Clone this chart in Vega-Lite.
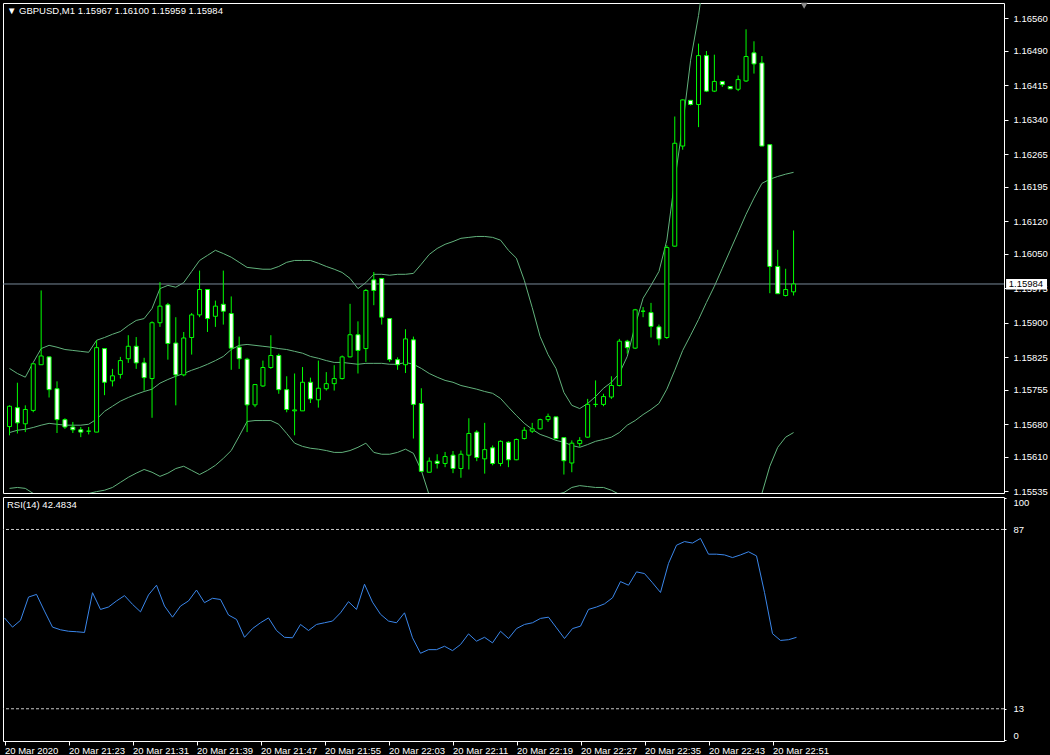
{
  "$schema": "https://vega.github.io/schema/vega-lite/v6.json",
  "background": "#000000",
  "padding": {"left": 2, "top": 2, "right": 4, "bottom": 0},
  "spacing": 4,
  "bounds": "flush",
  "config": {
    "view": {"stroke": "#ffffff", "strokeWidth": 1, "fill": "#000000"},
    "font": "Liberation Sans",
    "axis": {"labelColor": "#ffffff", "tickColor": "#ffffff", "domain": false, "grid": false, "labelFont": "Liberation Sans", "labelFontSize": 9.5, "tickSize": 4, "labelOverlap": false},
    "axisY": {"labelOverlap": false},
    "axisRight": {"labelOverlap": false},
    "axisQuantitative": {"labelOverlap": false}
  },
  "datasets": {
    "bars": [
      {"t": "2020-03-20T21:15:00Z", "o": 1.15675, "h": 1.15721, "l": 1.15656, "c": 1.15719, "bu": 1.15801, "bm": 1.15662, "bl": 1.15541, "r": 50.5},
      {"t": "2020-03-20T21:16:00Z", "o": 1.15716, "h": 1.15770, "l": 1.15660, "c": 1.15683, "bu": 1.15790, "bm": 1.15667, "bl": 1.15543, "r": 46.7},
      {"t": "2020-03-20T21:17:00Z", "o": 1.15681, "h": 1.15721, "l": 1.15663, "c": 1.15712, "bu": 1.15782, "bm": 1.15669, "bl": 1.15541, "r": 49.5},
      {"t": "2020-03-20T21:18:00Z", "o": 1.15710, "h": 1.15812, "l": 1.15706, "c": 1.15811, "bu": 1.15814, "bm": 1.15673, "bl": 1.15530, "r": 59.1},
      {"t": "2020-03-20T21:19:00Z", "o": 1.15809, "h": 1.15970, "l": 1.15809, "c": 1.15828, "bu": 1.15844, "bm": 1.15678, "bl": 1.15526, "r": 60.2},
      {"t": "2020-03-20T21:20:00Z", "o": 1.15826, "h": 1.15827, "l": 1.15738, "c": 1.15755, "bu": 1.15851, "bm": 1.15682, "bl": 1.15524, "r": 53.3},
      {"t": "2020-03-20T21:21:00Z", "o": 1.15757, "h": 1.15773, "l": 1.15661, "c": 1.15690, "bu": 1.15847, "bm": 1.15680, "bl": 1.15521, "r": 46.7},
      {"t": "2020-03-20T21:22:00Z", "o": 1.15690, "h": 1.15693, "l": 1.15670, "c": 1.15674, "bu": 1.15842, "bm": 1.15678, "bl": 1.15521, "r": 45.6},
      {"t": "2020-03-20T21:23:00Z", "o": 1.15674, "h": 1.15685, "l": 1.15661, "c": 1.15668, "bu": 1.15840, "bm": 1.15678, "bl": 1.15524, "r": 45.0},
      {"t": "2020-03-20T21:24:00Z", "o": 1.15668, "h": 1.15674, "l": 1.15652, "c": 1.15663, "bu": 1.15838, "bm": 1.15678, "bl": 1.15526, "r": 44.8},
      {"t": "2020-03-20T21:25:00Z", "o": 1.15665, "h": 1.15674, "l": 1.15658, "c": 1.15665, "bu": 1.15836, "bm": 1.15680, "bl": 1.15530, "r": 44.5},
      {"t": "2020-03-20T21:26:00Z", "o": 1.15663, "h": 1.15862, "l": 1.15663, "c": 1.15846, "bu": 1.15862, "bm": 1.15691, "bl": 1.15534, "r": 60.9},
      {"t": "2020-03-20T21:27:00Z", "o": 1.15844, "h": 1.15845, "l": 1.15743, "c": 1.15771, "bu": 1.15868, "bm": 1.15708, "bl": 1.15537, "r": 54.0},
      {"t": "2020-03-20T21:28:00Z", "o": 1.15774, "h": 1.15800, "l": 1.15762, "c": 1.15785, "bu": 1.15875, "bm": 1.15719, "bl": 1.15543, "r": 55.0},
      {"t": "2020-03-20T21:29:00Z", "o": 1.15788, "h": 1.15826, "l": 1.15779, "c": 1.15818, "bu": 1.15881, "bm": 1.15730, "bl": 1.15554, "r": 57.5},
      {"t": "2020-03-20T21:30:00Z", "o": 1.15822, "h": 1.15873, "l": 1.15813, "c": 1.15849, "bu": 1.15894, "bm": 1.15738, "bl": 1.15565, "r": 59.7},
      {"t": "2020-03-20T21:31:00Z", "o": 1.15849, "h": 1.15869, "l": 1.15800, "c": 1.15813, "bu": 1.15905, "bm": 1.15745, "bl": 1.15574, "r": 56.1},
      {"t": "2020-03-20T21:32:00Z", "o": 1.15813, "h": 1.15824, "l": 1.15753, "c": 1.15781, "bu": 1.15909, "bm": 1.15751, "bl": 1.15582, "r": 53.0},
      {"t": "2020-03-20T21:33:00Z", "o": 1.15779, "h": 1.15903, "l": 1.15694, "c": 1.15900, "bu": 1.15931, "bm": 1.15756, "bl": 1.15576, "r": 60.0},
      {"t": "2020-03-20T21:34:00Z", "o": 1.15900, "h": 1.15988, "l": 1.15891, "c": 1.15936, "bu": 1.15974, "bm": 1.15769, "bl": 1.15567, "r": 64.0},
      {"t": "2020-03-20T21:35:00Z", "o": 1.15939, "h": 1.15943, "l": 1.15820, "c": 1.15855, "bu": 1.15981, "bm": 1.15777, "bl": 1.15574, "r": 55.4},
      {"t": "2020-03-20T21:36:00Z", "o": 1.15856, "h": 1.15912, "l": 1.15721, "c": 1.15787, "bu": 1.15977, "bm": 1.15784, "bl": 1.15584, "r": 50.8},
      {"t": "2020-03-20T21:37:00Z", "o": 1.15787, "h": 1.15880, "l": 1.15784, "c": 1.15867, "bu": 1.15987, "bm": 1.15790, "bl": 1.15589, "r": 55.4},
      {"t": "2020-03-20T21:38:00Z", "o": 1.15868, "h": 1.15921, "l": 1.15831, "c": 1.15917, "bu": 1.16011, "bm": 1.15797, "bl": 1.15580, "r": 57.5},
      {"t": "2020-03-20T21:39:00Z", "o": 1.15917, "h": 1.16013, "l": 1.15912, "c": 1.15972, "bu": 1.16035, "bm": 1.15803, "bl": 1.15571, "r": 62.0},
      {"t": "2020-03-20T21:40:00Z", "o": 1.15972, "h": 1.15972, "l": 1.15880, "c": 1.15909, "bu": 1.16046, "bm": 1.15810, "bl": 1.15580, "r": 56.8},
      {"t": "2020-03-20T21:41:00Z", "o": 1.15914, "h": 1.15948, "l": 1.15891, "c": 1.15936, "bu": 1.16057, "bm": 1.15818, "bl": 1.15591, "r": 58.6},
      {"t": "2020-03-20T21:42:00Z", "o": 1.15940, "h": 1.16013, "l": 1.15896, "c": 1.15925, "bu": 1.16050, "bm": 1.15827, "bl": 1.15606, "r": 58.1},
      {"t": "2020-03-20T21:43:00Z", "o": 1.15920, "h": 1.15957, "l": 1.15798, "c": 1.15845, "bu": 1.16042, "bm": 1.15842, "bl": 1.15623, "r": 51.7},
      {"t": "2020-03-20T21:44:00Z", "o": 1.15847, "h": 1.15870, "l": 1.15800, "c": 1.15822, "bu": 1.16031, "bm": 1.15851, "bl": 1.15654, "r": 49.9},
      {"t": "2020-03-20T21:45:00Z", "o": 1.15821, "h": 1.15824, "l": 1.15663, "c": 1.15722, "bu": 1.16020, "bm": 1.15853, "bl": 1.15686, "r": 42.5},
      {"t": "2020-03-20T21:46:00Z", "o": 1.15722, "h": 1.15766, "l": 1.15717, "c": 1.15766, "bu": 1.16018, "bm": 1.15851, "bl": 1.15688, "r": 46.1},
      {"t": "2020-03-20T21:47:00Z", "o": 1.15763, "h": 1.15818, "l": 1.15761, "c": 1.15803, "bu": 1.16016, "bm": 1.15849, "bl": 1.15688, "r": 48.5},
      {"t": "2020-03-20T21:48:00Z", "o": 1.15803, "h": 1.15873, "l": 1.15800, "c": 1.15829, "bu": 1.16016, "bm": 1.15847, "bl": 1.15688, "r": 50.5},
      {"t": "2020-03-20T21:49:00Z", "o": 1.15829, "h": 1.15833, "l": 1.15746, "c": 1.15755, "bu": 1.16022, "bm": 1.15844, "bl": 1.15680, "r": 45.3},
      {"t": "2020-03-20T21:50:00Z", "o": 1.15755, "h": 1.15784, "l": 1.15706, "c": 1.15712, "bu": 1.16031, "bm": 1.15842, "bl": 1.15660, "r": 42.5},
      {"t": "2020-03-20T21:51:00Z", "o": 1.15709, "h": 1.15790, "l": 1.15656, "c": 1.15711, "bu": 1.16035, "bm": 1.15838, "bl": 1.15639, "r": 42.3},
      {"t": "2020-03-20T21:52:00Z", "o": 1.15709, "h": 1.15804, "l": 1.15709, "c": 1.15771, "bu": 1.16035, "bm": 1.15834, "bl": 1.15632, "r": 47.8},
      {"t": "2020-03-20T21:53:00Z", "o": 1.15771, "h": 1.15781, "l": 1.15726, "c": 1.15735, "bu": 1.16035, "bm": 1.15827, "bl": 1.15628, "r": 45.3},
      {"t": "2020-03-20T21:54:00Z", "o": 1.15733, "h": 1.15818, "l": 1.15716, "c": 1.15758, "bu": 1.16029, "bm": 1.15823, "bl": 1.15626, "r": 47.8},
      {"t": "2020-03-20T21:55:00Z", "o": 1.15757, "h": 1.15793, "l": 1.15753, "c": 1.15768, "bu": 1.16022, "bm": 1.15818, "bl": 1.15623, "r": 48.5},
      {"t": "2020-03-20T21:56:00Z", "o": 1.15768, "h": 1.15808, "l": 1.15753, "c": 1.15779, "bu": 1.16016, "bm": 1.15814, "bl": 1.15619, "r": 49.2},
      {"t": "2020-03-20T21:57:00Z", "o": 1.15779, "h": 1.15829, "l": 1.15777, "c": 1.15826, "bu": 1.16009, "bm": 1.15814, "bl": 1.15619, "r": 52.6},
      {"t": "2020-03-20T21:58:00Z", "o": 1.15826, "h": 1.15941, "l": 1.15825, "c": 1.15874, "bu": 1.15996, "bm": 1.15812, "bl": 1.15623, "r": 57.2},
      {"t": "2020-03-20T21:59:00Z", "o": 1.15874, "h": 1.15903, "l": 1.15790, "c": 1.15840, "bu": 1.15974, "bm": 1.15810, "bl": 1.15630, "r": 54.0},
      {"t": "2020-03-20T22:00:00Z", "o": 1.15844, "h": 1.15973, "l": 1.15815, "c": 1.15970, "bu": 1.15987, "bm": 1.15812, "bl": 1.15639, "r": 64.4},
      {"t": "2020-03-20T22:01:00Z", "o": 1.15993, "h": 1.16010, "l": 1.15938, "c": 1.15970, "bu": 1.16005, "bm": 1.15812, "bl": 1.15619, "r": 57.0},
      {"t": "2020-03-20T22:02:00Z", "o": 1.15996, "h": 1.15996, "l": 1.15896, "c": 1.15912, "bu": 1.16005, "bm": 1.15812, "bl": 1.15615, "r": 52.0},
      {"t": "2020-03-20T22:03:00Z", "o": 1.15909, "h": 1.15910, "l": 1.15815, "c": 1.15820, "bu": 1.16003, "bm": 1.15810, "bl": 1.15615, "r": 49.2},
      {"t": "2020-03-20T22:04:00Z", "o": 1.15820, "h": 1.15825, "l": 1.15798, "c": 1.15809, "bu": 1.16005, "bm": 1.15810, "bl": 1.15619, "r": 48.5},
      {"t": "2020-03-20T22:05:00Z", "o": 1.15809, "h": 1.15886, "l": 1.15791, "c": 1.15865, "bu": 1.16005, "bm": 1.15814, "bl": 1.15626, "r": 52.6},
      {"t": "2020-03-20T22:06:00Z", "o": 1.15863, "h": 1.15870, "l": 1.15649, "c": 1.15723, "bu": 1.16007, "bm": 1.15810, "bl": 1.15617, "r": 42.3},
      {"t": "2020-03-20T22:07:00Z", "o": 1.15725, "h": 1.15758, "l": 1.15576, "c": 1.15578, "bu": 1.16027, "bm": 1.15801, "bl": 1.15580, "r": 35.9},
      {"t": "2020-03-20T22:08:00Z", "o": 1.15576, "h": 1.15608, "l": 1.15576, "c": 1.15600, "bu": 1.16048, "bm": 1.15790, "bl": 1.15526, "r": 37.4},
      {"t": "2020-03-20T22:09:00Z", "o": 1.15600, "h": 1.15615, "l": 1.15584, "c": 1.15595, "bu": 1.16061, "bm": 1.15782, "bl": 1.15493, "r": 37.4},
      {"t": "2020-03-20T22:10:00Z", "o": 1.15595, "h": 1.15620, "l": 1.15587, "c": 1.15610, "bu": 1.16070, "bm": 1.15775, "bl": 1.15472, "r": 38.8},
      {"t": "2020-03-20T22:11:00Z", "o": 1.15613, "h": 1.15622, "l": 1.15574, "c": 1.15584, "bu": 1.16076, "bm": 1.15771, "bl": 1.15454, "r": 37.0},
      {"t": "2020-03-20T22:12:00Z", "o": 1.15584, "h": 1.15623, "l": 1.15564, "c": 1.15615, "bu": 1.16083, "bm": 1.15764, "bl": 1.15439, "r": 39.5},
      {"t": "2020-03-20T22:13:00Z", "o": 1.15613, "h": 1.15693, "l": 1.15582, "c": 1.15660, "bu": 1.16085, "bm": 1.15760, "bl": 1.15428, "r": 43.9},
      {"t": "2020-03-20T22:14:00Z", "o": 1.15663, "h": 1.15667, "l": 1.15600, "c": 1.15608, "bu": 1.16087, "bm": 1.15756, "bl": 1.15424, "r": 40.9},
      {"t": "2020-03-20T22:15:00Z", "o": 1.15605, "h": 1.15683, "l": 1.15573, "c": 1.15625, "bu": 1.16087, "bm": 1.15751, "bl": 1.15422, "r": 42.5},
      {"t": "2020-03-20T22:16:00Z", "o": 1.15629, "h": 1.15634, "l": 1.15591, "c": 1.15595, "bu": 1.16085, "bm": 1.15747, "bl": 1.15428, "r": 40.2},
      {"t": "2020-03-20T22:17:00Z", "o": 1.15595, "h": 1.15645, "l": 1.15589, "c": 1.15643, "bu": 1.16079, "bm": 1.15736, "bl": 1.15439, "r": 45.0},
      {"t": "2020-03-20T22:18:00Z", "o": 1.15641, "h": 1.15643, "l": 1.15587, "c": 1.15603, "bu": 1.16057, "bm": 1.15717, "bl": 1.15454, "r": 42.0},
      {"t": "2020-03-20T22:19:00Z", "o": 1.15603, "h": 1.15649, "l": 1.15602, "c": 1.15647, "bu": 1.16040, "bm": 1.15699, "bl": 1.15472, "r": 46.1},
      {"t": "2020-03-20T22:20:00Z", "o": 1.15649, "h": 1.15674, "l": 1.15647, "c": 1.15667, "bu": 1.15992, "bm": 1.15682, "bl": 1.15489, "r": 47.8},
      {"t": "2020-03-20T22:21:00Z", "o": 1.15665, "h": 1.15683, "l": 1.15661, "c": 1.15670, "bu": 1.15933, "bm": 1.15669, "bl": 1.15504, "r": 48.5},
      {"t": "2020-03-20T22:22:00Z", "o": 1.15670, "h": 1.15692, "l": 1.15669, "c": 1.15690, "bu": 1.15870, "bm": 1.15658, "bl": 1.15515, "r": 50.3},
      {"t": "2020-03-20T22:23:00Z", "o": 1.15690, "h": 1.15703, "l": 1.15685, "c": 1.15697, "bu": 1.15831, "bm": 1.15652, "bl": 1.15524, "r": 50.8},
      {"t": "2020-03-20T22:24:00Z", "o": 1.15696, "h": 1.15696, "l": 1.15647, "c": 1.15649, "bu": 1.15801, "bm": 1.15645, "bl": 1.15528, "r": 46.4},
      {"t": "2020-03-20T22:25:00Z", "o": 1.15651, "h": 1.15652, "l": 1.15571, "c": 1.15601, "bu": 1.15749, "bm": 1.15641, "bl": 1.15532, "r": 42.0},
      {"t": "2020-03-20T22:26:00Z", "o": 1.15596, "h": 1.15645, "l": 1.15576, "c": 1.15639, "bu": 1.15721, "bm": 1.15634, "bl": 1.15543, "r": 46.1},
      {"t": "2020-03-20T22:27:00Z", "o": 1.15638, "h": 1.15652, "l": 1.15631, "c": 1.15645, "bu": 1.15714, "bm": 1.15630, "bl": 1.15547, "r": 47.1},
      {"t": "2020-03-20T22:28:00Z", "o": 1.15652, "h": 1.15735, "l": 1.15651, "c": 1.15723, "bu": 1.15725, "bm": 1.15636, "bl": 1.15545, "r": 54.0},
      {"t": "2020-03-20T22:29:00Z", "o": 1.15723, "h": 1.15775, "l": 1.15717, "c": 1.15723, "bu": 1.15740, "bm": 1.15643, "bl": 1.15543, "r": 55.0},
      {"t": "2020-03-20T22:30:00Z", "o": 1.15723, "h": 1.15746, "l": 1.15719, "c": 1.15740, "bu": 1.15758, "bm": 1.15647, "bl": 1.15543, "r": 56.3},
      {"t": "2020-03-20T22:31:00Z", "o": 1.15739, "h": 1.15784, "l": 1.15735, "c": 1.15764, "bu": 1.15771, "bm": 1.15652, "bl": 1.15537, "r": 58.8},
      {"t": "2020-03-20T22:32:00Z", "o": 1.15764, "h": 1.15865, "l": 1.15762, "c": 1.15860, "bu": 1.15790, "bm": 1.15662, "bl": 1.15528, "r": 65.5},
      {"t": "2020-03-20T22:33:00Z", "o": 1.15860, "h": 1.15863, "l": 1.15833, "c": 1.15846, "bu": 1.15827, "bm": 1.15678, "bl": 1.15515, "r": 64.0},
      {"t": "2020-03-20T22:34:00Z", "o": 1.15845, "h": 1.15930, "l": 1.15843, "c": 1.15928, "bu": 1.15894, "bm": 1.15688, "bl": 1.15493, "r": 69.5},
      {"t": "2020-03-20T22:35:00Z", "o": 1.15925, "h": 1.15934, "l": 1.15912, "c": 1.15925, "bu": 1.15953, "bm": 1.15701, "bl": 1.15472, "r": 68.8},
      {"t": "2020-03-20T22:36:00Z", "o": 1.15922, "h": 1.15943, "l": 1.15868, "c": 1.15892, "bu": 1.15981, "bm": 1.15712, "bl": 1.15450, "r": 65.0},
      {"t": "2020-03-20T22:37:00Z", "o": 1.15891, "h": 1.15896, "l": 1.15851, "c": 1.15865, "bu": 1.16011, "bm": 1.15725, "bl": 1.15417, "r": 61.0},
      {"t": "2020-03-20T22:38:00Z", "o": 1.15868, "h": 1.16068, "l": 1.15865, "c": 1.16063, "bu": 1.16079, "bm": 1.15756, "bl": 1.15433, "r": 73.0},
      {"t": "2020-03-20T22:39:00Z", "o": 1.16066, "h": 1.16347, "l": 1.16065, "c": 1.16289, "bu": 1.16209, "bm": 1.15797, "bl": 1.15385, "r": 80.5},
      {"t": "2020-03-20T22:40:00Z", "o": 1.16283, "h": 1.16384, "l": 1.16275, "c": 1.16383, "bu": 1.16328, "bm": 1.15840, "bl": 1.15352, "r": 82.0},
      {"t": "2020-03-20T22:41:00Z", "o": 1.16382, "h": 1.16382, "l": 1.16371, "c": 1.16373, "bu": 1.16469, "bm": 1.15873, "bl": 1.15277, "r": 81.4},
      {"t": "2020-03-20T22:42:00Z", "o": 1.16373, "h": 1.16505, "l": 1.16324, "c": 1.16479, "bu": 1.16566, "bm": 1.15907, "bl": 1.15248, "r": 83.3},
      {"t": "2020-03-20T22:43:00Z", "o": 1.16479, "h": 1.16489, "l": 1.16400, "c": 1.16402, "bu": 1.16688, "bm": 1.15944, "bl": 1.15200, "r": 76.8},
      {"t": "2020-03-20T22:44:00Z", "o": 1.16402, "h": 1.16481, "l": 1.16400, "c": 1.16423, "bu": 1.16778, "bm": 1.15979, "bl": 1.15180, "r": 76.8},
      {"t": "2020-03-20T22:45:00Z", "o": 1.16423, "h": 1.16423, "l": 1.16411, "c": 1.16416, "bu": 1.16846, "bm": 1.16018, "bl": 1.15190, "r": 76.5},
      {"t": "2020-03-20T22:46:00Z", "o": 1.16412, "h": 1.16412, "l": 1.16407, "c": 1.16407, "bu": 1.16881, "bm": 1.16057, "bl": 1.15233, "r": 75.4},
      {"t": "2020-03-20T22:47:00Z", "o": 1.16406, "h": 1.16436, "l": 1.16402, "c": 1.16427, "bu": 1.16915, "bm": 1.16096, "bl": 1.15277, "r": 76.5},
      {"t": "2020-03-20T22:48:00Z", "o": 1.16424, "h": 1.16536, "l": 1.16422, "c": 1.16477, "bu": 1.16928, "bm": 1.16135, "bl": 1.15342, "r": 77.8},
      {"t": "2020-03-20T22:49:00Z", "o": 1.16485, "h": 1.16510, "l": 1.16440, "c": 1.16461, "bu": 1.16879, "bm": 1.16170, "bl": 1.15461, "r": 76.1},
      {"t": "2020-03-20T22:50:00Z", "o": 1.16463, "h": 1.16478, "l": 1.16283, "c": 1.16283, "bu": 1.16874, "bm": 1.16202, "bl": 1.15530, "r": 61.0},
      {"t": "2020-03-20T22:51:00Z", "o": 1.16286, "h": 1.16286, "l": 1.15964, "c": 1.16022, "bu": 1.16833, "bm": 1.16211, "bl": 1.15589, "r": 44.0},
      {"t": "2020-03-20T22:52:00Z", "o": 1.16022, "h": 1.16058, "l": 1.15963, "c": 1.15963, "bu": 1.16804, "bm": 1.16217, "bl": 1.15630, "r": 41.2},
      {"t": "2020-03-20T22:53:00Z", "o": 1.15959, "h": 1.16017, "l": 1.15957, "c": 1.15972, "bu": 1.16792, "bm": 1.16222, "bl": 1.15652, "r": 41.5},
      {"t": "2020-03-20T22:54:00Z", "o": 1.15967, "h": 1.16100, "l": 1.15959, "c": 1.15984, "bu": 1.16790, "bm": 1.16226, "bl": 1.15662, "r": 42.4834}
    ],
    "last": [{"price": 1.15984}],
    "levels": [{"lv": 87}, {"lv": 13}]
  },
  "vconcat": [
    {
      "width": 1001,
      "height": 490,
      "title": {"text": "▼ GBPUSD,M1  1.15967 1.16100 1.15959 1.15984", "anchor": "start", "frame": "group", "orient": "top", "offset": -13, "dx": 4, "color": "#ffffff", "font": "Liberation Sans", "fontSize": 9.5, "fontWeight": "normal"},
      "layer": [
        {
          "data": {"name": "bars"},
          "mark": {"type": "line", "color": "#62b27c", "strokeWidth": 1, "clip": true},
          "encoding": {
            "x": {"field": "t", "type": "temporal", "scale": {"type": "utc", "domain": [{"year": 2020, "month": 3, "date": 20, "hours": 21, "minutes": 14, "seconds": 48, "milliseconds": 750, "utc": true}, {"year": 2020, "month": 3, "date": 20, "hours": 23, "minutes": 19, "seconds": 56, "milliseconds": 250, "utc": true}]}, "axis": null},
            "y": {"field": "bu", "type": "quantitative", "title": null, "scale": {"domain": [1.15531, 1.16593], "zero": false, "nice": false},
              "axis": {"orient": "right", "values": [1.1656, 1.1649, 1.16415, 1.1634, 1.16265, 1.16195, 1.1612, 1.1605, 1.15975, 1.159, 1.15825, 1.15755, 1.1568, 1.1561, 1.15535], "format": ".5f", "tickSize": 4, "labelPadding": 5, "labelOverlap": false, "labelBound": false, "title": null}}
          }
        },
        {
          "data": {"name": "bars"},
          "mark": {"type": "line", "color": "#62b27c", "strokeWidth": 1, "clip": true},
          "encoding": {
            "x": {"field": "t", "type": "temporal", "axis": null},
            "y": {"field": "bm", "type": "quantitative", "title": null,
              "axis": {"orient": "right", "values": [1.1656, 1.1649, 1.16415, 1.1634, 1.16265, 1.16195, 1.1612, 1.1605, 1.15975, 1.159, 1.15825, 1.15755, 1.1568, 1.1561, 1.15535], "format": ".5f", "tickSize": 4, "labelPadding": 5, "labelOverlap": false, "labelBound": false, "title": null}}
          }
        },
        {
          "data": {"name": "bars"},
          "mark": {"type": "line", "color": "#62b27c", "strokeWidth": 1, "clip": true},
          "encoding": {
            "x": {"field": "t", "type": "temporal", "axis": null},
            "y": {"field": "bl", "type": "quantitative", "title": null,
              "axis": {"orient": "right", "values": [1.1656, 1.1649, 1.16415, 1.1634, 1.16265, 1.16195, 1.1612, 1.1605, 1.15975, 1.159, 1.15825, 1.15755, 1.1568, 1.1561, 1.15535], "format": ".5f", "tickSize": 4, "labelPadding": 5, "labelOverlap": false, "labelBound": false, "title": null}}
          }
        },
        {
          "data": {"name": "last"},
          "mark": {"type": "rule", "color": "#778899", "strokeWidth": 1},
          "encoding": {"y": {"field": "price", "type": "quantitative", "title": null,
              "axis": {"orient": "right", "values": [1.1656, 1.1649, 1.16415, 1.1634, 1.16265, 1.16195, 1.1612, 1.1605, 1.15975, 1.159, 1.15825, 1.15755, 1.1568, 1.1561, 1.15535], "format": ".5f", "tickSize": 4, "labelPadding": 5, "labelOverlap": false, "labelBound": false, "title": null}}}
        },
        {
          "data": {"name": "bars"},
          "mark": {"type": "rule", "color": "#00ff00", "strokeWidth": 1, "clip": true},
          "encoding": {
            "x": {"field": "t", "type": "temporal", "axis": null},
            "y": {"field": "l", "type": "quantitative", "title": null,
              "axis": {"orient": "right", "values": [1.1656, 1.1649, 1.16415, 1.1634, 1.16265, 1.16195, 1.1612, 1.1605, 1.15975, 1.159, 1.15825, 1.15755, 1.1568, 1.1561, 1.15535], "format": ".5f", "tickSize": 4, "labelPadding": 5, "labelOverlap": false, "labelBound": false, "title": null}},
            "y2": {"field": "h"}
          }
        },
        {
          "data": {"name": "bars"},
          "mark": {"type": "bar", "width": 4, "stroke": "#00ff00", "strokeWidth": 1, "clip": true},
          "encoding": {
            "x": {"field": "t", "type": "temporal", "axis": null},
            "y": {"field": "o", "type": "quantitative", "title": null,
              "axis": {"orient": "right", "values": [1.1656, 1.1649, 1.16415, 1.1634, 1.16265, 1.16195, 1.1612, 1.1605, 1.15975, 1.159, 1.15825, 1.15755, 1.1568, 1.1561, 1.15535], "format": ".5f", "tickSize": 4, "labelPadding": 5, "labelOverlap": false, "labelBound": false, "title": null}},
            "y2": {"field": "c"},
            "fill": {"condition": {"test": "datum.c < datum.o", "value": "#ffffff"}, "value": "#000000"}
          }
        },
        {
          "data": {"name": "last"},
          "mark": {"type": "rect", "fill": "#ffffff", "clip": false},
          "encoding": {
            "x": {"datum": {"year": 2020, "month": 3, "date": 20, "hours": 23, "minutes": 20, "seconds": 50, "utc": true}, "type": "temporal", "axis": null},
            "x2": {"datum": {"year": 2020, "month": 3, "date": 20, "hours": 23, "minutes": 26, "utc": true}},
            "y": {"datum": 1.15995, "type": "quantitative", "title": null,
              "axis": {"orient": "right", "values": [1.1656, 1.1649, 1.16415, 1.1634, 1.16265, 1.16195, 1.1612, 1.1605, 1.15975, 1.159, 1.15825, 1.15755, 1.1568, 1.1561, 1.15535], "format": ".5f", "tickSize": 4, "labelPadding": 5, "labelOverlap": false, "labelBound": false, "title": null}},
            "y2": {"datum": 1.15972}
          }
        },
        {
          "data": {"name": "last"},
          "mark": {"type": "text", "color": "#000000", "align": "left", "baseline": "middle", "font": "Liberation Sans", "fontSize": 9.5, "clip": false},
          "encoding": {
            "x": {"datum": {"year": 2020, "month": 3, "date": 20, "hours": 23, "minutes": 21, "seconds": 10, "utc": true}, "type": "temporal", "axis": null},
            "y": {"field": "price", "type": "quantitative", "title": null,
              "axis": {"orient": "right", "values": [1.1656, 1.1649, 1.16415, 1.1634, 1.16265, 1.16195, 1.1612, 1.1605, 1.15975, 1.159, 1.15825, 1.15755, 1.1568, 1.1561, 1.15535], "format": ".5f", "tickSize": 4, "labelPadding": 5, "labelOverlap": false, "labelBound": false, "title": null}},
            "text": {"field": "price", "type": "quantitative", "format": ".5f"}
          }
        },
        {
          "data": {"name": "last"},
          "mark": {"type": "point", "shape": "triangle-down", "filled": true, "fill": "#8c8c8c", "strokeWidth": 0, "size": 45, "opacity": 1, "clip": false},
          "encoding": {
            "x": {"datum": {"year": 2020, "month": 3, "date": 20, "hours": 22, "minutes": 55, "seconds": 20, "utc": true}, "type": "temporal", "axis": null},
            "y": {"datum": 1.16587, "type": "quantitative", "title": null,
              "axis": {"orient": "right", "values": [1.1656, 1.1649, 1.16415, 1.1634, 1.16265, 1.16195, 1.1612, 1.1605, 1.15975, 1.159, 1.15825, 1.15755, 1.1568, 1.1561, 1.15535], "format": ".5f", "tickSize": 4, "labelPadding": 5, "labelOverlap": false, "labelBound": false, "title": null}}
          }
        }
      ]
    },
    {
      "width": 1001,
      "height": 244,
      "title": {"text": "RSI(14) 42.4834", "anchor": "start", "frame": "group", "orient": "top", "offset": -12, "dx": 4, "color": "#ffffff", "font": "Liberation Sans", "fontSize": 9.5, "fontWeight": "normal"},
      "layer": [
        {
          "data": {"name": "levels"},
          "mark": {"type": "rule", "color": "#c8c8c8", "strokeWidth": 1, "strokeDash": [3, 2]},
          "encoding": {
            "y": {"field": "lv", "type": "quantitative", "title": null, "scale": {"domain": [-0.3, 100.4], "zero": false, "nice": false},
              "axis": {"orient": "right", "values": [0, 13, 87, 100], "labelFlush": 4, "tickSize": 4, "labelPadding": 5, "labelOverlap": false, "title": null, "tickDash": [2, 2]}}
          }
        },
        {
          "data": {"name": "bars"},
          "mark": {"type": "line", "color": "#3a86ea", "strokeWidth": 1},
          "encoding": {
            "x": {"field": "t", "type": "temporal", "title": null,
              "scale": {"type": "utc", "domain": [{"year": 2020, "month": 3, "date": 20, "hours": 21, "minutes": 14, "seconds": 48, "milliseconds": 750, "utc": true}, {"year": 2020, "month": 3, "date": 20, "hours": 23, "minutes": 19, "seconds": 56, "milliseconds": 250, "utc": true}]},
              "axis": {"values": [
                {"year": 2020, "month": 3, "date": 20, "hours": 21, "minutes": 15, "utc": true},
                {"year": 2020, "month": 3, "date": 20, "hours": 21, "minutes": 23, "utc": true},
                {"year": 2020, "month": 3, "date": 20, "hours": 21, "minutes": 31, "utc": true},
                {"year": 2020, "month": 3, "date": 20, "hours": 21, "minutes": 39, "utc": true},
                {"year": 2020, "month": 3, "date": 20, "hours": 21, "minutes": 47, "utc": true},
                {"year": 2020, "month": 3, "date": 20, "hours": 21, "minutes": 55, "utc": true},
                {"year": 2020, "month": 3, "date": 20, "hours": 22, "minutes": 3, "utc": true},
                {"year": 2020, "month": 3, "date": 20, "hours": 22, "minutes": 11, "utc": true},
                {"year": 2020, "month": 3, "date": 20, "hours": 22, "minutes": 19, "utc": true},
                {"year": 2020, "month": 3, "date": 20, "hours": 22, "minutes": 27, "utc": true},
                {"year": 2020, "month": 3, "date": 20, "hours": 22, "minutes": 35, "utc": true},
                {"year": 2020, "month": 3, "date": 20, "hours": 22, "minutes": 43, "utc": true},
                {"year": 2020, "month": 3, "date": 20, "hours": 22, "minutes": 51, "utc": true}
              ],
              "labelExpr": "utchours(datum.value) == 21 && utcminutes(datum.value) == 15 ? '20 Mar 2020' : utcFormat(datum.value, '%d %b %H:%M')",
              "labelAlign": "left", "labelBaseline": "top", "labelPadding": 0, "tickSize": 4, "labelFlush": false, "labelOverlap": false, "title": null}},
            "y": {"field": "r", "type": "quantitative", "title": null,
              "axis": {"orient": "right", "values": [0, 13, 87, 100], "labelFlush": 4, "tickSize": 4, "labelPadding": 5, "labelOverlap": false, "title": null, "tickDash": [2, 2]}}
          }
        }
      ]
    }
  ]
}
